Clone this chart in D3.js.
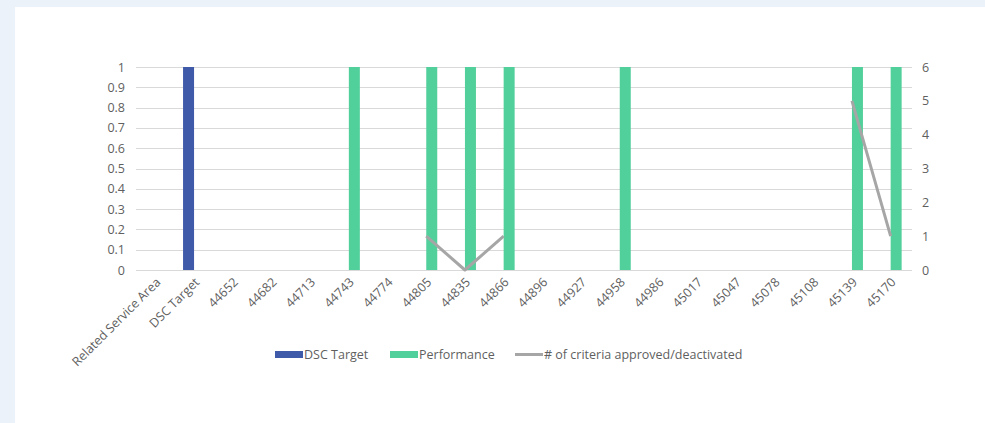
<!DOCTYPE html>
<html>
<head>
<meta charset="utf-8">
<script src="https://cdn.jsdelivr.net/npm/d3@7/dist/d3.min.js"></script>
<style>
  html, body { margin: 0; padding: 0; background: #ebf2fa; }
  svg { display: block; }
  text { font-family: "Open Sans", Lato, sans-serif; fill: #595959; }
</style>
</head>
<body>
<svg id="chart" width="985" height="423"></svg>
<script>
const categories = ["Related Service Area", "DSC Target", "44652", "44682", "44713", "44743", "44774", "44805", "44835", "44866", "44896", "44927", "44958", "44986", "45017", "45047", "45078", "45108", "45139", "45170"];
const dscTarget   = [null, 1, null, null, null, null, null, null, null, null, null, null, null, null, null, null, null, null, null, null];
const performance = [null, null, null, null, null, 1, null, 1, 1, 1, null, null, 1, null, null, null, null, null, 1, 1];
const criteria    = [null, null, null, null, null, null, null, 1, 0, 1, null, null, null, null, null, null, null, null, 5, 1];
const leftTicks  = [0, 0.1, 0.2, 0.3, 0.4, 0.5, 0.6, 0.7, 0.8, 0.9, 1];
const rightTicks = [0, 1, 2, 3, 4, 5, 6];
const seriesNames = ["DSC Target", "Performance", "# of criteria approved/deactivated"];
const colors = ["#3f5aa8", "#52d09c", "#a6a6a6"];

(function () {
const svg = d3.select("#chart");
svg.append("rect").attr("x", 15).attr("y", 7).attr("width", 970).attr("height", 416).attr("fill", "#fff");

const pLeft = 136, pRight = 910, pTop = 67, pBottom = 270;
const x = d3.scaleBand().domain(categories).range([pLeft, pRight]).paddingInner(0).paddingOuter(0);
const inner = d3.scaleBand().domain(["dsc", "perf"]).range([x.bandwidth()/2 - 11, x.bandwidth()/2 + 11]);
const yL = d3.scaleLinear().domain([0, 1]).range([pBottom, pTop]);
const yR = d3.scaleLinear().domain([0, 6]).range([pBottom, pTop]);
const font = "'Open Sans', Lato, sans-serif";
const fs = 12.5;
const txt = "#5f5f5f";

svg.append("g").selectAll("line").data(leftTicks).join("line")
  .attr("x1", pLeft).attr("x2", pRight + 2)
  .attr("y1", d => Math.round(yL(d)) + 0.5).attr("y2", d => Math.round(yL(d)) + 0.5)
  .attr("stroke", "#d9d9d9").attr("stroke-width", 1);

const gl = svg.append("g").attr("transform", `translate(${pLeft},0)`)
  .call(d3.axisLeft(yL).tickValues(leftTicks).tickFormat(d3.format("~g")).tickSize(0).tickPadding(11));
gl.select(".domain").remove();
gl.selectAll("text").attr("font-size", fs).style("fill", txt).attr("font-family", font);

const gr = svg.append("g").attr("transform", `translate(${pRight},0)`)
  .call(d3.axisRight(yR).tickValues(rightTicks).tickFormat(d3.format("~g")).tickSize(0).tickPadding(12));
gr.select(".domain").remove();
gr.selectAll("text").attr("font-size", fs).style("fill", txt).attr("font-family", font);

svg.append("g").selectAll("rect").data(categories.map((c, i) => ({c, v: dscTarget[i]})).filter(d => d.v != null))
  .join("rect")
  .attr("x", d => x(d.c) + inner("dsc")).attr("width", inner.bandwidth())
  .attr("y", d => yL(d.v)).attr("height", d => pBottom - yL(d.v))
  .attr("fill", colors[0]);
svg.append("g").selectAll("rect").data(categories.map((c, i) => ({c, v: performance[i]})).filter(d => d.v != null))
  .join("rect")
  .attr("x", d => x(d.c) + inner("perf")).attr("width", inner.bandwidth())
  .attr("y", d => yL(d.v)).attr("height", d => pBottom - yL(d.v))
  .attr("fill", colors[1]);

const line = d3.line()
  .defined(d => d.v != null)
  .x(d => x(d.c) + x.bandwidth()/2)
  .y(d => yR(d.v));
svg.append("path")
  .datum(categories.map((c, i) => ({c, v: criteria[i]})))
  .attr("d", line).attr("fill", "none")
  .attr("stroke", colors[2]).attr("stroke-width", 3).attr("stroke-linejoin", "round");

const gx = svg.append("g").attr("transform", `translate(0,${pBottom})`)
  .call(d3.axisBottom(x).tickSize(0).tickPadding(0));
gx.select(".domain").remove();
gx.selectAll("text")
  .attr("font-size", fs).style("fill", txt).attr("font-family", font)
  .attr("text-anchor", "end").attr("dy", null).attr("y", 0)
  .attr("transform", "translate(6,13) rotate(-45)");

const legendItems = [
  {name: seriesNames[0], color: colors[0], type: "rect", x: 275},
  {name: seriesNames[1], color: colors[1], type: "rect", x: 390},
  {name: seriesNames[2], color: colors[2], type: "line", x: 515}
];
const lg = svg.append("g");
legendItems.forEach(it => {
  if (it.type === "rect") {
    lg.append("rect").attr("x", it.x).attr("y", 351).attr("width", 28).attr("height", 7).attr("fill", it.color);
  } else {
    lg.append("line").attr("x1", it.x).attr("x2", it.x + 28).attr("y1", 354.5).attr("y2", 354.5)
      .attr("stroke", it.color).attr("stroke-width", 3);
  }
  lg.append("text").attr("x", it.x + 29).attr("y", 359).attr("font-size", fs).style("fill", txt).text(it.name);
});
})();
</script>
</body>
</html>
